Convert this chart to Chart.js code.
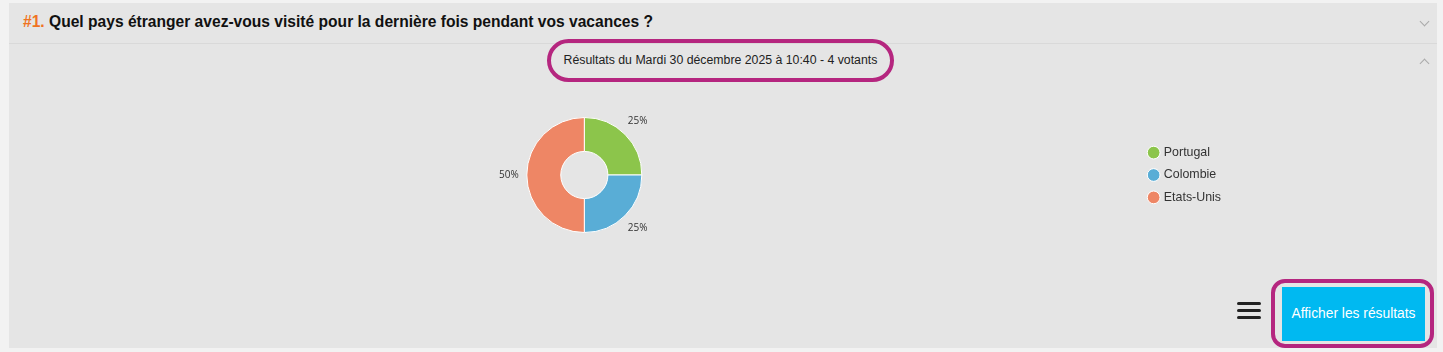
<!DOCTYPE html>
<html>
<head>
<meta charset="utf-8">
<script src="https://cdn.jsdelivr.net/npm/chart.js@4/dist/chart.umd.min.js"></script>
<style>
  html, body { margin: 0; padding: 0; }
  body { width: 1443px; height: 352px; background: #f2f2f2; position: relative; overflow: hidden;
         font-family: Arial, "Liberation Sans", sans-serif; color: #222; }
  #panel { position: absolute; left: 9px; top: 3px; width: 1428px; height: 345px; background: #e5e5e5; }
  #head { position: absolute; left: 0; top: 0; width: 100%; height: 40px; border-bottom: 1px solid #d9d9d9; }
  #title { position: absolute; left: 14px; top: 10px; font-size: 15.6px; font-weight: bold; color: #111; white-space: nowrap; }
  #title span { color: #f07322; }
  .chev { position: absolute; left: 1412px; width: 6px; height: 6px; border-right: 1px solid #aaa; border-bottom: 1px solid #aaa; }
  #sub { position: absolute; left: 538px; top: 36px; width: 339px; height: 35px; border: 4px solid #b5267f;
         border-radius: 22px; text-align: center; line-height: 35px; font-size: 12.3px; color: #222; white-space: nowrap; }
  #wrap { position: absolute; left: 29px; top: 96px; width: 1202px; height: 158px; }
  #burger { position: absolute; left: 1228px; top: 299px; width: 24px; }
  #burger div { height: 3px; background: #222; border-radius: 2px; margin-bottom: 4px; }
  #ring { position: absolute; left: 1262px; top: 276px; width: 155px; height: 61px; border: 4px solid #b5267f; border-radius: 14px; }
  #btn { position: absolute; left: 1273px; top: 284px; width: 143px; height: 54px; background: #00b9f1; color: #fff;
         font-size: 13.8px; line-height: 54px; text-align: center; white-space: nowrap; }
</style>
</head>
<body>
<div id="panel">
  <div id="head"><div id="title"><span>#1.</span> Quel pays étranger avez-vous visité pour la dernière fois pendant vos vacances ?</div></div>
  <div class="chev" style="top:15px; transform: rotate(45deg);"></div>
  <div class="chev" style="top:57px; transform: rotate(-135deg);"></div>
  <div id="sub">Résultats du Mardi 30 décembre 2025 à 10:40 - 4 votants</div>
  <div id="burger"><div></div><div></div><div></div></div>
  <div id="ring"></div>
  <div id="btn">Afficher les résultats</div>
</div>
<div id="wrap"><canvas id="chart"></canvas></div>
<script>
const countries = ['Portugal', 'Colombie', 'Etats-Unis'];
const votes = [1, 1, 2];
const sliceColors = ['#8cc54b', '#59add6', '#ee8665'];

const pctLabels = {
  id: 'pctLabels',
  afterDatasetsDraw(chart) {
    let ctx = chart.ctx;
    let meta = chart.getDatasetMeta(0);
    let total = votes.reduce((a, b) => a + b, 0);
    ctx.save();
    ctx.font = '10px "Open Sans", sans-serif';
    ctx.fillStyle = '#333';
    ctx.textAlign = 'center';
    ctx.textBaseline = 'middle';
    meta.data.forEach((arc, i) => {
      let p = arc.getProps(['x', 'y', 'startAngle', 'endAngle', 'outerRadius']);
      let mid = (p.startAngle + p.endAngle) / 2;
      let r = p.outerRadius + 18;
      let pct = Math.round(votes[i] / total * 100) + '%';
      ctx.fillText(pct, p.x + Math.cos(mid) * r, p.y + Math.sin(mid) * r);
    });
    ctx.restore();
  }
};

new Chart(document.getElementById('chart'), {
  type: 'doughnut',
  data: {
    labels: countries,
    datasets: [{
      data: votes,
      backgroundColor: sliceColors,
      borderColor: '#ffffff',
      borderWidth: 1
    }]
  },
  options: {
    responsive: true,
    maintainAspectRatio: false,
    animation: false,
    cutout: '41%',
    layout: { padding: { top: 21, bottom: 21 } },
    plugins: {
      tooltip: { enabled: false },
      legend: {
        position: 'right',
        labels: {
          usePointStyle: true,
          pointStyle: 'circle',
          boxWidth: 8,
          boxHeight: 9,
          padding: 10,
          color: '#333',
          font: { family: 'Arial, "Liberation Sans", sans-serif', size: 12.4 }
        }
      }
    }
  },
  plugins: [pctLabels]
});
</script>
</body>
</html>
